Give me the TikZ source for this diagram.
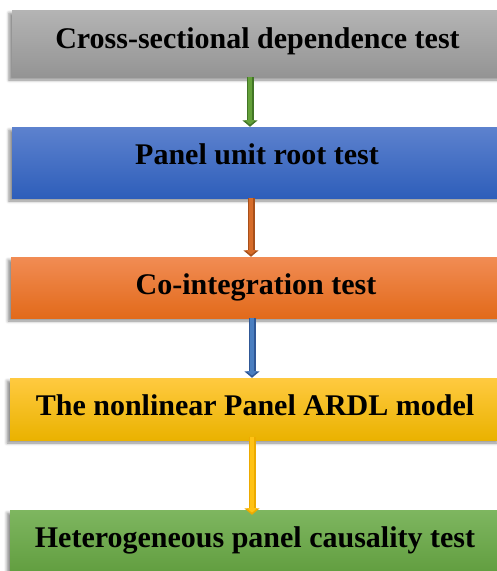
\documentclass[tikz,border=0pt]{standalone}
\usepackage{fontspec}
\setmainfont{Liberation Serif}
\usetikzlibrary{shadows.blur,arrows.meta}
\definecolor{g1}{RGB}{180,180,180}\definecolor{g2}{RGB}{148,148,148}
\definecolor{b1}{RGB}{93,130,206}\definecolor{b2}{RGB}{46,94,186}
\definecolor{o1}{RGB}{241,140,84}\definecolor{o2}{RGB}{226,106,26}
\definecolor{y1}{RGB}{255,202,64}\definecolor{y2}{RGB}{234,178,0}
\definecolor{gr1}{RGB}{126,182,96}\definecolor{gr2}{RGB}{98,158,64}
\definecolor{agf}{RGB}{100,160,58}\definecolor{agd}{RGB}{66,118,38}
\definecolor{aof}{RGB}{214,108,42}\definecolor{aod}{RGB}{168,80,26}
\definecolor{abf}{RGB}{74,126,192}\definecolor{abd}{RGB}{48,88,150}
\definecolor{ayf}{RGB}{255,194,20}\definecolor{ayd}{RGB}{236,170,0}
\tikzset{
  stepbox/.style={rectangle, inner sep=0pt, minimum width=490pt,
    blur shadow={shadow xshift=-3pt, shadow yshift=-3pt, shadow blur radius=3pt, shadow opacity=45}},
  boxtext/.style={anchor=base, font=\bfseries\fontsize{30pt}{30pt}\selectfont, text=black, inner sep=0pt},
  flowouter/.style={line width=7pt, #1, -{Triangle[width=15pt,length=6.5pt]}},
  flowinner/.style={line width=4.6pt, #1, shorten >=2.2pt, -{Triangle[width=10.5pt,length=4.5pt]}}
}
\begin{document}
\begin{tikzpicture}[x=1pt,y=-1pt]
\useasboundingbox (0,0) rectangle (497,571);
\node[stepbox, minimum height=67pt, top color=g1, bottom color=g2] (a) at (257,43.5) {};
\node[stepbox, minimum height=71pt, top color=b1, bottom color=b2] (b) at (257,162.5) {};
\node[stepbox, minimum height=61pt, top color=o1, bottom color=o2] (c) at (256,287.5) {};
\node[stepbox, minimum height=62pt, top color=y1, bottom color=y2] (d) at (255,409) {};
\node[stepbox, minimum height=62pt, top color=gr1, bottom color=gr2] (e) at (255,541) {};
\node[boxtext] (ta) at (257.5,48) {Cross-sectional dependence test};
\node[boxtext] (tb) at (257,164) {Panel unit root test};
\node[boxtext] (tc) at (256,294) {Co-integration test};
\node[boxtext] (td) at (255,415) {The nonlinear Panel ARDL model};
\node[boxtext] (te) at (255,547) {Heterogeneous panel causality test};
\draw[flowouter=agd] (a.south -| 250,0) -- (b.north -| 250,0);
\draw[flowinner=agf] (a.south -| 250,0) -- (b.north -| 250,0);
\draw[flowouter=aod] (b.south -| 251,0) -- (c.north -| 251,0);
\draw[flowinner=aof] (b.south -| 251,0) -- (c.north -| 251,0);
\draw[flowouter=abd] (c.south -| 252,0) -- (d.north -| 252,0);
\draw[flowinner=abf] (c.south -| 252,0) -- (d.north -| 252,0);
\draw[flowouter=ayd] ([yshift=3pt]d.south -| 252,0) -- ([yshift=-5pt]e.north -| 252,0);
\draw[flowinner=ayf] ([yshift=3pt]d.south -| 252,0) -- ([yshift=-5pt]e.north -| 252,0);
\end{tikzpicture}
\end{document}
